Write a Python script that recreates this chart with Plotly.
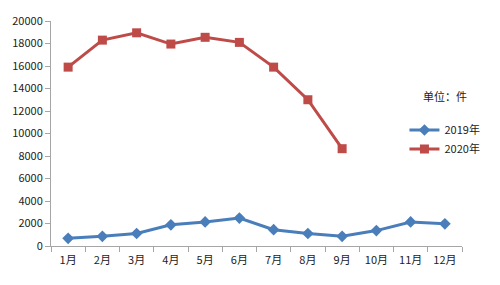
import plotly.graph_objects as go

months = ["1月", "2月", "3月", "4月", "5月", "6月", "7月", "8月", "9月", "10月", "11月", "12月"]
y2019 = [680, 860, 1110, 1880, 2140, 2480, 1450, 1110, 860, 1370, 2140, 1970]
y2020 = [15900, 18300, 18950, 17950, 18550, 18100, 15900, 13000, 8650]
yticks = [0, 2000, 4000, 6000, 8000, 10000, 12000, 14000, 16000, 18000, 20000]

fig = go.Figure()
fig.add_trace(go.Scatter(x=months, y=y2019, name="2019年", mode="lines+markers",
                         line=dict(color="#4A7EBB", width=3),
                         marker=dict(symbol="diamond", size=9, color="#4A7EBB")))
fig.add_trace(go.Scatter(x=months[:len(y2020)], y=y2020, name="2020年", mode="lines+markers",
                         line=dict(color="#BE4B48", width=3),
                         marker=dict(symbol="square", size=9, color="#BE4B48")))

fig.update_layout(
    width=500, height=285,
    margin=dict(l=49, r=38, t=12, b=39),
    paper_bgcolor="white", plot_bgcolor="white",
    font=dict(family="Noto Sans CJK SC, DejaVu Sans", size=11, color="#222"),
    showlegend=True,
    legend=dict(x=0.86, y=0.58, xanchor="left", yanchor="top",
                font=dict(size=11), tracegroupgap=0, itemwidth=30,
                bgcolor="rgba(0,0,0,0)"),
    annotations=[dict(text="单位：件", x=0.958, y=0.665, xref="paper", yref="paper",
                      xanchor="center", yanchor="middle",
                      showarrow=False, font=dict(size=11, color="#222"))],
)
fig.update_xaxes(type="category", categoryorder="array", categoryarray=months,
                 range=[-0.5, 11.5], showline=True, linecolor="#A6A6A6", linewidth=1,
                 ticks="outside", tickson="boundaries", ticklen=5, tickcolor="#A6A6A6",
                 ticklabelstandoff=4,
                 showgrid=False, zeroline=False)
fig.update_yaxes(range=[0, 20000], tickvals=yticks, ticktext=[str(v) for v in yticks],
                 showline=True, linecolor="#A6A6A6", linewidth=1,
                 ticks="outside", ticklen=5, tickcolor="#A6A6A6",
                 showgrid=False, zeroline=False)

fig.write_html("out.html")
